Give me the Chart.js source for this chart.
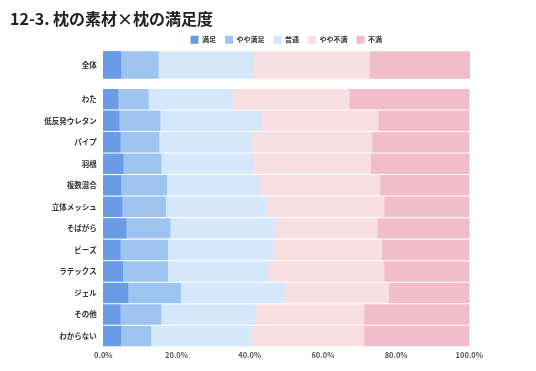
<!DOCTYPE html>
<html>
<head>
<meta charset="utf-8">
<script src="https://cdn.jsdelivr.net/npm/chart.js@4/dist/chart.umd.min.js"></script>
<style>
  html, body { margin: 0; padding: 0; background: #ffffff; }
  #wrap { position: relative; width: 536px; height: 371px; }
</style>
</head>
<body>
<div id="wrap"><canvas id="c" width="536" height="371"></canvas></div>
<script>
// ---- data ----
const chartTitle = '12-3. 枕の素材×枕の満足度';
const categories = ['全体', 'わた', '低反発ウレタン', 'パイプ', '羽根', '複数混合', '立体メッシュ', 'そばがら', 'ビーズ', 'ラテックス', 'ジェル', 'その他', 'わからない'];
const seriesNames = ['満足', 'やや満足', '普通', 'やや不満', '不満'];
const satisfied            = [4.8, 4.0, 4.3, 4.6, 5.4, 4.8, 5.1, 6.2, 4.6, 5.3, 6.7, 4.6, 4.8];
const somewhatSatisfied    = [10.2, 8.3, 11.2, 10.6, 10.4, 12.5, 11.9, 12.0, 13.0, 12.3, 14.4, 11.2, 8.2];
const neutral              = [25.8, 23.1, 27.7, 25.2, 25.3, 25.5, 27.6, 28.6, 28.7, 27.4, 28.4, 25.7, 27.2];
const somewhatDissatisfied = [31.9, 31.8, 31.9, 33.0, 31.9, 32.8, 32.1, 28.1, 29.8, 31.7, 28.5, 29.7, 31.0];
const dissatisfied         = [27.4, 32.8, 24.9, 26.6, 27.0, 24.4, 23.3, 25.1, 23.9, 23.3, 22.0, 28.8, 28.8];
const xTickValues = [0, 20, 40, 60, 80, 100];

// ---- styling / layout ----
const seriesValues = [satisfied, somewhatSatisfied, neutral, somewhatDissatisfied, dissatisfied];
const seriesColors = ['#6a9be6', '#9ec4f0', '#d4e7fb', '#f8dfe1', '#f2bdca'];
const FONT = '"Noto Sans CJK JP", "Noto Sans", sans-serif';

// row positions on the (linear, reversed) index axis: the overall row sits apart from the rest
const rowPos = categories.map((c, i) => i === 0 ? -1.59 : i - 1);

const datasets = [];
seriesNames.forEach((name, s) => {
  datasets.push({
    label: name,
    data: [{ x: seriesValues[s][0], y: rowPos[0] }],
    backgroundColor: seriesColors[s],
    borderWidth: 0,
    barThickness: 27,
    stack: 'all',
    clip: false
  });
});
seriesNames.forEach((name, s) => {
  datasets.push({
    label: name + '_rows',
    data: categories.slice(1).map((c, i) => ({ x: seriesValues[s][i + 1], y: rowPos[i + 1] })),
    backgroundColor: seriesColors[s],
    borderWidth: 0,
    barThickness: 19.8,
    stack: 'all',
    clip: false
  });
});

new Chart(document.getElementById('c'), {
  type: 'bar',
  data: { datasets },
  options: {
    indexAxis: 'y',
    responsive: false,
    animation: false,
    events: [],
    layout: { padding: { top: 0, left: 10, right: 66.7, bottom: 0 } },
    plugins: {
      title: {
        display: true,
        text: chartTitle,
        align: 'start',
        color: '#222222',
        font: { family: FONT, size: 16, weight: 'bold', lineHeight: 1 },
        padding: { top: 10.7, bottom: 0 }
      },
      legend: {
        display: true,
        position: 'top',
        fullSize: false,
        labels: {
          boxWidth: 8,
          boxHeight: 8,
          padding: 9,
          color: '#333333',
          font: { family: FONT, size: 7, weight: 'bold' },
          filter: (item) => item.datasetIndex < seriesNames.length
        }
      },
      tooltip: { enabled: false }
    },
    scales: {
      x: {
        type: 'linear',
        stacked: true,
        min: 0,
        max: 100,
        offset: false,
        afterBuildTicks: (scale) => { scale.ticks = xTickValues.map(v => ({ value: v })); },
        afterFit: (scale) => { scale.height = 24.2; },
        grid: { display: false, drawTicks: false },
        border: { display: false },
        ticks: {
          padding: 4,
          color: '#555555',
          font: { family: FONT, size: 7.5, weight: 'bold' },
          maxRotation: 0,
          autoSkip: false,
          callback: (v) => Number(v).toFixed(1) + '%'
        }
      },
      y: {
        type: 'linear',
        stacked: true,
        reverse: true,
        offset: false,
        min: -2.113,
        max: 11.5,
        afterBuildTicks: (scale) => { scale.ticks = rowPos.map(v => ({ value: v })); },
        afterFit: (scale) => { scale.width = 93.3; },
        grid: { display: false, drawTicks: false, offset: false },
        border: { display: false },
        ticks: {
          padding: 6.6,
          color: '#333333',
          autoSkip: false,
          font: { family: FONT, size: 7.5, weight: 'bold' },
          callback: (v) => {
            const idx = rowPos.findIndex(p => Math.abs(p - v) < 1e-6);
            return idx >= 0 ? categories[idx] : '';
          }
        }
      }
    }
  }
});
</script>
</body>
</html>
